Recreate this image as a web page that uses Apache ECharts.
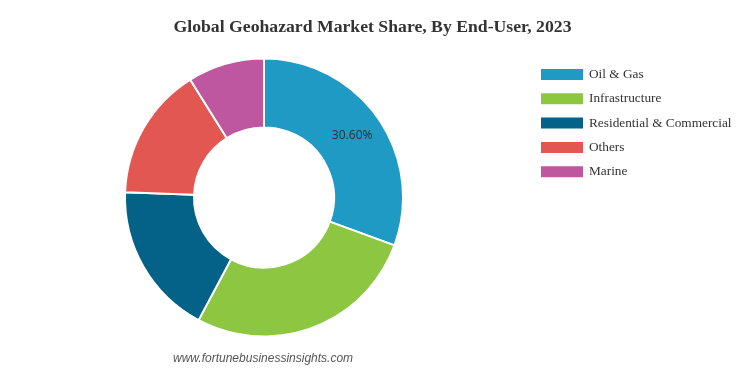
<!DOCTYPE html>
<html><head><meta charset="utf-8">
<script src="https://cdn.jsdelivr.net/npm/echarts@6/dist/echarts.min.js"></script>
<style>html,body{margin:0;padding:0;background:#fff}#c{width:745px;height:372px}</style>
</head><body><div id="c"></div>
<script>
const categories = ['Oil & Gas', 'Infrastructure', 'Residential & Commercial', 'Others', 'Marine'];
const shares = [30.6, 27.2, 17.8, 15.5, 8.9];
const colors = ['#1E9AC4', '#8DC641', '#046187', '#E35753', '#BE579F'];
const titleText = 'Global Geohazard Market Share, By End-User, 2023';
const watermark = 'www.fortunebusinessinsights.com';

const chart = echarts.init(document.getElementById('c'));
chart.setOption({
  animation: false,
  title: {
    text: titleText, left: 'center', top: 18, padding: 0,
    textStyle: { fontFamily: 'Liberation Serif', fontWeight: 'bold', fontSize: 17.7, color: '#333' }
  },
  graphic: [{
    type: 'text', left: 173, top: 353,
    style: { text: watermark, font: 'italic 12px "Liberation Sans"', fill: '#555' }
  }],
  legend: {
    orient: 'vertical', left: 539, top: 67, padding: 0, itemWidth: 44, itemHeight: 13, itemGap: 9.3,
    icon: 'rect',
    textStyle: { fontFamily: 'Liberation Serif', fontSize: 13.3, color: '#333' }
  },
  series: [{
    type: 'pie', center: [264, 197.5], radius: [70, 139], startAngle: 90, clockwise: true,
    itemStyle: { borderColor: '#fff', borderWidth: 2 },
    label: {
      show: true, position: 'inside', fontFamily: 'Noto Sans', fontSize: 12, color: '#333',
      formatter: p => p.dataIndex === 0 ? p.value.toFixed(2) + '%' : ''
    },
    labelLine: { show: false },
    data: categories.map((n, i) => ({ name: n, value: shares[i], itemStyle: { color: colors[i] } }))
  }]
});
</script></body></html>
